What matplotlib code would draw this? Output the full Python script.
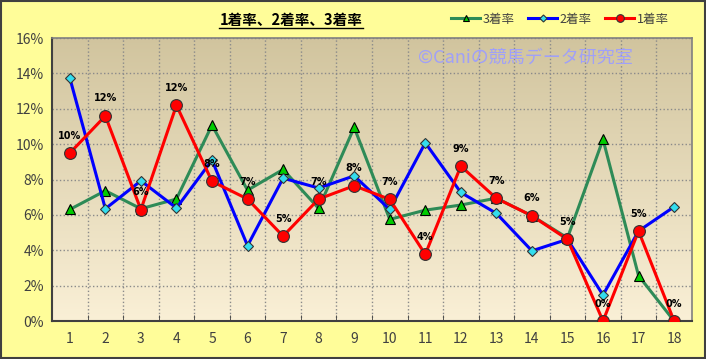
import matplotlib
matplotlib.use("Agg")
import matplotlib.pyplot as plt
import numpy as np
from matplotlib.patches import Rectangle

plt.rcParams['font.family'] = ['Noto Sans CJK JP', 'DejaVu Sans']

categories = [str(i) for i in range(1, 19)]
rate1 = [9.5, 11.6, 6.3, 12.2, 7.9, 6.9, 4.8, 6.9, 7.65, 6.88, 3.77, 8.76, 6.94, 5.95, 4.62, 0.0, 5.09, 0.0]
rate2 = [13.75, 6.35, 7.93, 6.39, 9.1, 4.26, 8.08, 7.52, 8.21, 6.31, 10.08, 7.27, 6.09, 3.97, 4.62, 1.47, 5.09, 6.46]
rate3 = [6.31, 7.37, 6.35, 6.9, 11.08, 7.4, 8.57, 6.37, 10.95, 5.75, 6.27, 6.56, 6.95, 5.95, 4.7, 10.27, 2.56, 0.0]
labels1 = ['10%', '12%', '6%', '12%', '8%', '7%', '5%', '7%', '8%', '7%', '4%', '9%', '7%', '6%', '5%', '0%', '5%', '0%']
yticks = [0, 2, 4, 6, 8, 10, 12, 14, 16]

fig = plt.figure(figsize=(7.06, 3.59), dpi=100, facecolor='#FFFD99')
fig.patches.append(Rectangle((0.002, 0.003), 0.996, 0.994, transform=fig.transFigure,
                             fill=False, edgecolor='#404040', linewidth=1.5))
ax = fig.add_axes([0.0737, 0.1058, 0.9063, 0.788])
x = np.arange(len(categories))

# gradient background
top = np.array([0.82, 0.77, 0.62])
bot = np.array([0.98, 0.94, 0.84])
t = np.linspace(0, 1, 256)[:, None]
grad = (top * (1 - t) + bot * t)[:, None, :]
ax.imshow(grad, extent=[0, 1, 0, 1], transform=ax.transAxes, aspect='auto', zorder=0)

ax.set_xlim(-0.5, len(categories) - 0.5)
ax.set_ylim(0, 16)
ax.set_yticks(yticks)
ax.set_yticklabels([f'{v}%' for v in yticks])
ax.set_xticks(x)
ax.set_xticklabels(categories)
ax.set_xticks(np.arange(0.5, len(categories) - 0.5, 1), minor=True)
ax.tick_params(axis='x', which='major', length=0, pad=8, labelsize=10, colors='#404040')
ax.tick_params(axis='x', which='minor', length=4, direction='in', color='#404040')
ax.tick_params(axis='y', length=0, pad=6, labelsize=10, colors='#404040')
ax.grid(True, which='minor', axis='x', color='#8a8a8a', linestyle=':', linewidth=1.0, zorder=1)
ax.grid(True, which='major', axis='y', color='#8a8a8a', linestyle=':', linewidth=1.0, zorder=1)
ax.set_axisbelow(True)
for s in ['left', 'bottom']:
    ax.spines[s].set_color('#404040')
    ax.spines[s].set_linewidth(1.5)
for s in ['top', 'right']:
    ax.spines[s].set_color('#808080')
    ax.spines[s].set_linewidth(1.2)

l3, = ax.plot(x, rate3, color='#2E8B57', linewidth=2.2, marker='^', markersize=7.5,
              markerfacecolor='#00CC00', markeredgecolor='black', markeredgewidth=0.8, zorder=3, label='3着率')
l2, = ax.plot(x, rate2, color='#0000FF', linewidth=2.2, marker='D', markersize=5.5,
              markerfacecolor='#33DDEE', markeredgecolor='#333333', markeredgewidth=0.8, zorder=4, label='2着率')
l1, = ax.plot(x, rate1, color='#FF0000', linewidth=2.2, marker='o', markersize=8.5,
              markerfacecolor='#FF0000', markeredgecolor='#333333', markeredgewidth=0.8, zorder=5, label='1着率')
for xi, yi, lab in zip(x, rate1, labels1):
    ax.annotate(lab, (xi, yi), xytext=(0, 9), textcoords='offset points', ha='center', va='bottom',
                fontsize=7, fontweight='bold', color='black', zorder=6, family='DejaVu Sans')

ax.text(0.739, 0.93, '©Caniの競馬データ研究室', transform=ax.transAxes, ha='center', va='center',
        fontsize=13, color='#A0A0F8', zorder=2)

fig.text(0.412, 0.944, '1着率、2着率、3着率', ha='center', va='center', fontsize=10.5,
         fontweight='bold', color='black')
fig.add_artist(plt.Line2D([0.310, 0.514], [0.923, 0.923], transform=fig.transFigure, color='black', linewidth=1))

fig.legend(handles=[l3, l2, l1], loc='center', bbox_to_anchor=(0.793, 0.947), ncol=3, frameon=False,
           fontsize=9, handlelength=2.3, handletextpad=0.2, columnspacing=1.1,
           markerscale=0.65, labelcolor='#404040')

fig.savefig('out.png', dpi=100, facecolor=fig.get_facecolor())
